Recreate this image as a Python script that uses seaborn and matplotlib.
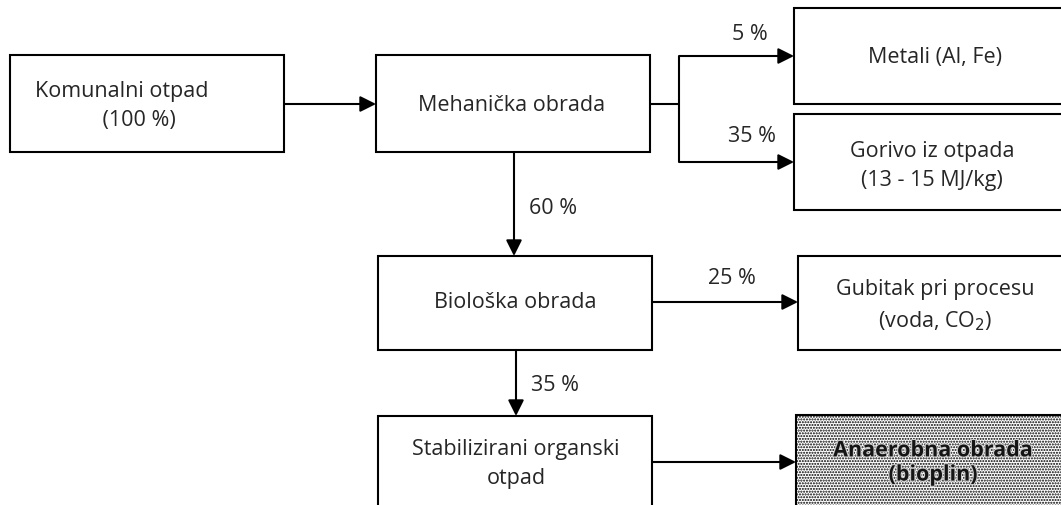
import matplotlib
matplotlib.use("Agg")
import matplotlib.pyplot as plt
import matplotlib.patheffects as pe
from matplotlib.patches import Rectangle
import seaborn as sns

# box texts (flow order)
labels = [
    "Komunalni otpad\n            (100 %)",
    "Mehanička obrada",
    "Metali (Al, Fe)",
    "Gorivo iz otpada\n(13 - 15 MJ/kg)",
    "Biološka obrada",
    "Gubitak pri procesu\n(voda, CO$_2$)",
    "Stabilizirani organski\notpad",
    "Anaerobna obrada\n(bioplin)",
]
# mass shares on the arrows
shares = ["5 %", "35 %", "60 %", "25 %", "35 %"]

# layout in pixel units: x0, y0, x1, y1 of every box
boxes = [
    (10, 56, 284, 153),
    (376, 56, 650, 153),
    (794, 9, 1080, 105),
    (794, 115, 1080, 211),
    (378, 257, 652, 351),
    (798, 257, 1080, 351),
    (378, 417, 652, 520),
    (796, 416, 1080, 520),
]
text_pos = [(35, 106, "left"), (512, 105, "center"), (935, 57, "center"),
            (932, 166, "center"), (515, 303, "center"), (935, 306, "center"),
            (516, 464, "center"), (933, 464, "center")]
share_pos = [(750, 34), (752, 136), (553, 208), (732, 278), (555, 386)]

sns.set_style("white")
plt.rcParams["font.family"] = ["Open Sans", "DejaVu Sans"]
plt.rcParams["hatch.color"] = "black"
plt.rcParams["hatch.linewidth"] = 1.0

fig = plt.figure(figsize=(10.61, 5.06), dpi=100)
ax = fig.add_axes([0, 0, 1, 1])
ax.set_xlim(0, 1061)
ax.set_ylim(506, 0)
ax.axis("off")

LW = 1.5
FS = 15.5

for i, (x0, y0, x1, y1) in enumerate(boxes):
    last = i == len(boxes) - 1
    ax.add_patch(Rectangle((x0, y0), x1 - x0, y1 - y0, facecolor="white",
                           edgecolor="black", lw=LW,
                           hatch="......" if last else None))
    tx, ty, ha = text_pos[i]
    if last:
        ax.text(tx, ty, labels[i], ha=ha, va="center", fontsize=FS,
                fontweight="bold", linespacing=1.2, color="#151515",
                path_effects=[pe.withStroke(linewidth=1.5, foreground="#cccccc")])
    else:
        ax.text(tx, ty, labels[i], ha=ha, va="center", fontsize=FS,
                multialignment="left" if ha == "left" else "center",
                linespacing=1.55)

def arrow(x0, y0, x1, y1):
    ax.annotate("", xy=(x1, y1), xytext=(x0, y0),
                arrowprops=dict(arrowstyle="-|>", color="black", lw=LW,
                                mutation_scale=24, shrinkA=0, shrinkB=0))

def line(xs, ys):
    ax.plot(xs, ys, color="black", lw=LW, solid_capstyle="butt")

# Komunalni -> Mehanicka
arrow(284, 105, 376, 105)
# split to Metali and Gorivo
line([650, 679], [105, 105])
line([679, 679], [57, 163])
arrow(679, 57, 794, 57)
arrow(679, 163, 794, 163)
# Mehanicka -> Bioloska
arrow(514, 153, 514, 257)
# Bioloska -> Gubitak
arrow(652, 303, 798, 303)
# Bioloska -> Stabilizirani
arrow(516, 351, 516, 417)
# Stabilizirani -> Anaerobna
arrow(652, 463, 796, 463)

for s, (sx, sy) in zip(shares, share_pos):
    ax.text(sx, sy, s, ha="center", va="center", fontsize=FS)

fig.savefig("out.png", dpi=100)
